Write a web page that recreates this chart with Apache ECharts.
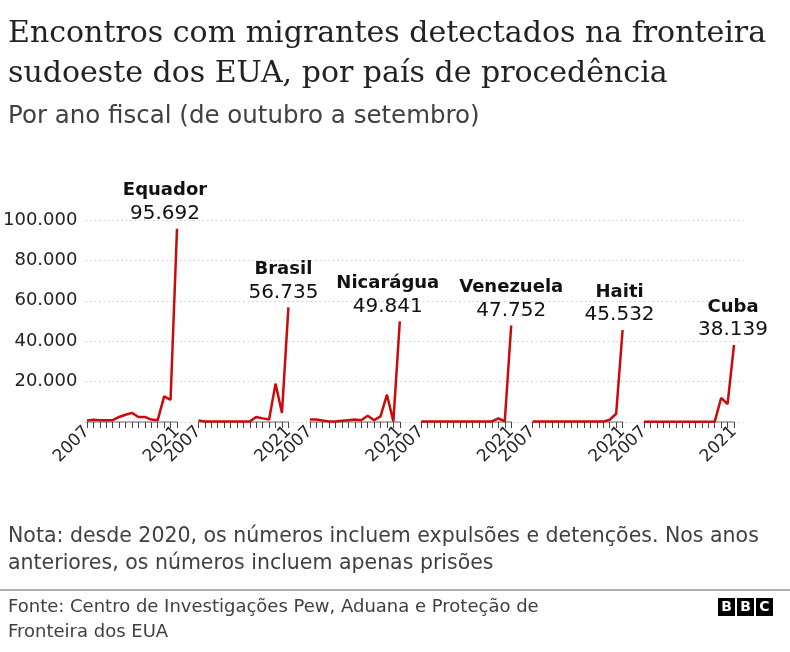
<!DOCTYPE html>
<html>
<head>
<meta charset="utf-8">
<script src="https://cdn.jsdelivr.net/npm/echarts@6/dist/echarts.min.js"></script>
<style>
html,body{margin:0;padding:0;background:#fff;}
#chart{width:790px;height:652px;}
</style>
</head>
<body>
<div id="chart"></div>
<script>
// ---- data ----
const years = ['2007','2008','2009','2010','2011','2012','2013','2014','2015','2016','2017','2018','2019','2020','2021'];
const countries = ['Equador','Brasil','Nicarágua','Venezuela','Haiti','Cuba'];
const equador   = [800, 1100, 900, 900, 900, 2500, 3600, 4500, 2500, 2500, 1200, 900, 12700, 11000, 95692];
const brasil    = [800, 300, 300, 300, 300, 300, 300, 300, 300, 2500, 1800, 1200, 19000, 4500, 56735];
const nicaragua = [1200, 1200, 700, 300, 300, 600, 900, 1200, 900, 3100, 900, 2800, 13500, 300, 49841];
const venezuela = [200, 200, 200, 200, 200, 200, 200, 200, 200, 200, 200, 300, 1800, 300, 47752];
const haiti     = [200, 200, 200, 200, 200, 200, 200, 200, 200, 200, 200, 200, 1100, 4100, 45532];
const cuba      = [100, 100, 100, 100, 100, 100, 100, 100, 100, 100, 100, 200, 11900, 8900, 38139];
const seriesValues = [equador, brasil, nicaragua, venezuela, haiti, cuba];
const yTicks = [0, 20000, 40000, 60000, 80000, 100000];

// ---- layout/styles ----
const panelLeft0 = 87, panelStep = 111.4, panelW = 90;
const plotTop = 220, plotH = 202;
const labelShift = [-12, -5, -12, 0, -3, -1];
const red = '#cc0a0a';
const sans = 'DejaVu Sans';

function fmt(n){ return String(n).replace(/\B(?=(\d{3})+(?!\d))/g, '.'); }

const grids = [{left: 82, width: 661, top: plotTop, height: plotH}];
const xAxes = [{gridIndex: 0, type: 'category', data: years, show: false}];
const yAxes = [{
  gridIndex: 0, type: 'value', min: yTicks[0], max: yTicks[yTicks.length-1], interval: yTicks[1]-yTicks[0],
  axisLine: {show: false}, axisTick: {show: false},
  axisLabel: {fontFamily: sans, fontSize: 18, color: '#222', margin: 8,
    formatter: v => v === 0 ? '' : fmt(v)},
  splitLine: {lineStyle: {color: '#c8c8c8', type: [1.5, 3], width: 1.2}}
}];
const series = [];

countries.forEach((name, i) => {
  const gi = i + 1;
  grids.push({left: panelLeft0 + i*panelStep, width: panelW, top: plotTop, height: plotH});
  xAxes.push({
    gridIndex: gi, type: 'category', data: years, boundaryGap: false,
    axisLine: {lineStyle: {color: '#999', width: 1.5}},
    axisTick: {interval: 0, length: 6, lineStyle: {color: '#444', width: 1}},
    axisLabel: {interval: (idx) => idx === 0 || idx === years.length-1, rotate: 45,
      fontFamily: sans, fontSize: 17, color: '#222', margin: 7}
  });
  yAxes.push({gridIndex: gi, type: 'value', min: yTicks[0], max: yTicks[yTicks.length-1], show: false, splitLine: {show: false}});
  const vals = seriesValues[i];
  series.push({
    type: 'line', xAxisIndex: gi, yAxisIndex: gi, data: vals,
    symbol: 'circle', symbolSize: 0.01, showSymbol: true,
    lineStyle: {color: red, width: 2.5}, itemStyle: {color: red},
    z: 5,
    label: {
      show: true, position: 'top', distance: 4, offset: [labelShift[i], 0],
      align: 'center',
      formatter: p => p.dataIndex === vals.length-1 ? '{n|' + name + '}\n{v|' + fmt(p.value) + '}' : '',
      rich: {
        n: {fontFamily: sans, fontWeight: 'bold', fontSize: 18, color: '#111', lineHeight: 24},
        v: {fontFamily: sans, fontSize: 20, color: '#111', lineHeight: 22}
      }
    }
  });
});

const chart = echarts.init(document.getElementById('chart'), null, {renderer: 'canvas'});
chart.setOption({
  animation: false,
  backgroundColor: '#fff',
  title: [
    {text: 'Encontros com migrantes detectados na fronteira\nsudoeste dos EUA, por país de procedência',
     left: 8, top: 14, padding: 0, textStyle: {fontFamily: 'DejaVu Serif', fontWeight: 'normal', fontSize: 30, color: '#222', lineHeight: 40}},
    {text: 'Por ano fiscal (de outubro a setembro)', left: 8, top: 104, padding: 0,
     textStyle: {fontFamily: sans, fontWeight: 'normal', fontSize: 24.5, color: '#404040'}},
    {text: 'Nota: desde 2020, os números incluem expulsões e detenções. Nos anos\nanteriores, os números incluem apenas prisões',
     left: 8, top: 523, padding: 0, textStyle: {fontFamily: sans, fontWeight: 'normal', fontSize: 20.5, color: '#404040', lineHeight: 27}},
    {text: 'Fonte: Centro de Investigações Pew, Aduana e Proteção de\nFronteira dos EUA',
     left: 8, top: 595, padding: 0, textStyle: {fontFamily: sans, fontWeight: 'normal', fontSize: 18, color: '#404040', lineHeight: 25}}
  ],
  grid: grids, xAxis: xAxes, yAxis: yAxes, series: series,
  graphic: [
    {type: 'line', shape: {x1: 0, y1: 590, x2: 790, y2: 590}, style: {stroke: '#999', lineWidth: 1.5}},
    {type: 'group', left: 718, top: 598, children: [
      {type: 'rect', shape: {x: 0, y: 0, width: 17, height: 18}, style: {fill: '#000'}},
      {type: 'text', x: 8.5, y: 9, style: {text: 'B', fill: '#fff', font: 'bold 14px DejaVu Sans', textAlign: 'center', textVerticalAlign: 'middle'}},
      {type: 'rect', shape: {x: 19, y: 0, width: 17, height: 18}, style: {fill: '#000'}},
      {type: 'text', x: 27.5, y: 9, style: {text: 'B', fill: '#fff', font: 'bold 14px DejaVu Sans', textAlign: 'center', textVerticalAlign: 'middle'}},
      {type: 'rect', shape: {x: 38, y: 0, width: 17, height: 18}, style: {fill: '#000'}},
      {type: 'text', x: 46.5, y: 9, style: {text: 'C', fill: '#fff', font: 'bold 14px DejaVu Sans', textAlign: 'center', textVerticalAlign: 'middle'}}
    ]}
  ]
});
</script>
</body>
</html>
